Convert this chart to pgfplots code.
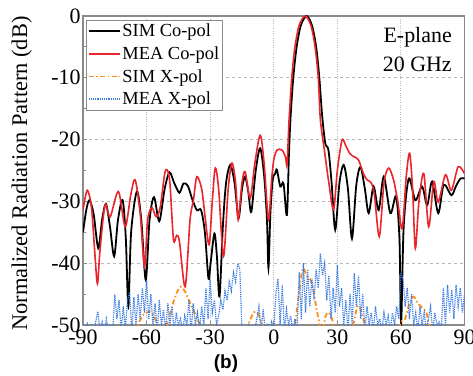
\documentclass[border=0pt]{standalone}
\usepackage{fontspec}
\setmainfont{Liberation Serif}
\newfontfamily\arialfont{Liberation Sans}
\usepackage{pgfplots}
\pgfplotsset{compat=1.18}
\definecolor{simred}{HTML}{E8262B}
\definecolor{simorange}{HTML}{FF8C1A}
\definecolor{meablue}{HTML}{3A7BE0}
\definecolor{framegray}{HTML}{8A8A8A}
\definecolor{gridgray}{HTML}{B8B8B8}
\begin{document}
\begin{tikzpicture}[x=1bp,y=1bp]
\useasboundingbox (0,0) rectangle (473,375);
\begin{axis}[
  at={(83bp,50bp)}, anchor=south west,
  scale only axis, width=381.5bp, height=309bp,
  xmin=-90, xmax=90, ymin=-50, ymax=0,
  xtick={-90,-60,-30,0,30,60,90},
  ytick={-50,-40,-30,-20,-10,0},
  minor y tick num=1,
  tick align=inside,
  major tick length=4bp, minor tick length=3bp,
  tick style={framegray, line width=0.8bp},
  xtick pos=bottom, ytick pos=left,
  axis line style={framegray, line width=1.6bp},
  xmajorgrids, ymajorgrids,
  major x grid style={gridgray, dotted, line width=1bp},
  major y grid style={gridgray, dashed, line width=1bp},
  /pgf/number format/assume math mode=true,
  ticklabel style={font=\fontsize{22}{24}\selectfont},
  xticklabel style={yshift=-1bp},
  yticklabel style={xshift=1bp},
  ylabel={Normalized Radiation Pattern (dB)},
  ylabel style={font=\fontsize{22.5}{24}\selectfont, at={(axis description cs:-0.125,0.49)}},
  legend style={at={(axis description cs:0.008,0.987)}, anchor=north west,
    draw=framegray, line width=0.6bp, font=\fontsize{18.5}{21}\selectfont,
    inner sep=1.5bp, row sep=4.5bp, cells={anchor=west}},
  legend cell align=left,
  legend image code/.code={\draw[#1, line width=1.6bp] (0bp,0bp) -- (31bp,0bp);},
  clip=true,
]
\addplot[black, line width=1.8bp, smooth] coordinates {
(-90,-35) (-88.5,-31.5) (-87,-29.8) (-85,-32) (-82.8,-37.6) (-81,-33) (-79.2,-30.4)
(-77.3,-34) (-75.3,-38.9) (-73.5,-33) (-71.3,-29.8) (-69.8,-36) (-68.6,-47) (-67.3,-35)
(-64.6,-28.4) (-62.5,-33) (-60.4,-42.7) (-58.6,-33) (-56.5,-29.3) (-54,-33.2)
(-51.5,-28) (-49.2,-25.3) (-47,-27) (-44.5,-28.6) (-42.6,-27.1) (-40.5,-27.5)
(-38.6,-29.5) (-36.3,-31.4) (-34.3,-31.4) (-32.5,-35) (-30.8,-42.5) (-29.8,-40)
(-28,-35.2) (-26.8,-39) (-25.6,-45.4) (-24,-34) (-22.5,-27) (-20.5,-24.1) (-18.5,-27)
(-16.6,-32.7) (-15,-28) (-13.5,-26) (-12,-28.5) (-10.6,-31.7) (-8.5,-25) (-6.4,-21.4)
(-4.5,-26) (-3.2,-33) (-2.5,-40.8) (-1.6,-32) (-0.5,-26.5) (0.7,-25.5) (1.5,-24.9)
(3.1,-27.6) (4.6,-27.1) (6.2,-32.2) (7.2,-22) (8,-16) (9.2,-10) (10.8,-5) (12.8,-1.5)
(15.5,0) (18,-1.5) (20,-5) (21.5,-10) (22.8,-16) (24.3,-20.6) (25.8,-21.7) (27.3,-27)
(29,-34.6) (31,-27) (33,-24.1) (35,-28) (36.9,-36) (38.9,-27.5) (40.9,-24.4) (43,-28)
(44.8,-31.9) (47.1,-27.6) (49.5,-31.4) (51.9,-26) (55,-31.9) (57.7,-29.2) (59.3,-36)
(60.1,-49.7) (61.3,-34.1) (63.7,-26.3) (66.8,-29.8) (70,-27.6) (72.4,-30.6) (74.7,-26.8)
(77.6,-31.9) (80.2,-27.3) (83.8,-29) (86,-27.5) (88.1,-26.3) (90,-26.3)
};
\addlegendentry{SIM Co-pol}
\addplot[simred, line width=1.6bp, smooth] coordinates {
(-90,-31.4) (-88,-28.2) (-86,-31) (-84.5,-38) (-83.2,-43.3) (-82,-38) (-79.6,-30.6)
(-77.2,-32.5) (-73.3,-28.4) (-70.1,-34.1) (-67.5,-29) (-65.4,-26.5) (-63,-32)
(-61,-40.6) (-59.5,-33) (-57.5,-31) (-55.5,-32.5) (-53.6,-31) (-51.5,-25.6)
(-50.3,-24.9) (-49,-27) (-47.3,-36.2) (-45.8,-35.5) (-44.5,-36.5) (-41.8,-43.8)
(-39.5,-33) (-37.9,-29.8) (-36.3,-26) (-34,-28) (-32.4,-32.5) (-30.5,-37) (-29,-30)
(-27.6,-24.6) (-26,-28) (-23.7,-38.9) (-21.5,-28) (-19.7,-23.8) (-18,-27) (-16.8,-33)
(-15,-27) (-13.5,-25.2) (-11.1,-29.5) (-9,-24) (-6.4,-19.3) (-4.5,-24) (-2.5,-33)
(-1,-26.5) (0,-23.3) (1.5,-21.7) (3.9,-21.7) (5.5,-22.8) (6.3,-24) (7.2,-17)
(8.5,-10) (10,-5) (12,-1.5) (14.8,0) (17.5,-1.5) (19.5,-5) (21,-10) (22,-16.8)
(24,-22) (26,-27) (28.2,-31.4) (30,-25) (32.2,-20.1) (34,-21) (36,-22.3) (38,-22.8)
(40,-23.3) (42.3,-25.5) (44,-26.5) (46,-27) (47.5,-29) (49.8,-35.7) (52,-27)
(54.2,-24.6) (56.5,-26.5) (58.5,-30) (60.6,-34.4) (62.5,-26) (64.1,-22.2) (65.5,-28)
(66.8,-37.6) (68.5,-30) (70.8,-25.5) (73.1,-34.1) (75.5,-26.8) (77.6,-30.1) (81,-25.7)
(83.8,-28.2) (87,-24.4) (90,-25.5)
};
\addlegendentry{MEA Co-pol}
\addplot[simorange, line width=1.8bp, dash pattern=on 5bp off 2.5bp on 1.5bp off 2.5bp, smooth] coordinates {
(-90,-52) (-66,-52) (-64,-50) (-62,-48.5) (-60,-48) (-58,-47.8) (-56,-49) (-54,-51)
(-52,-52) (-50,-49.5) (-48,-47) (-46,-45) (-44,-43.8) (-42,-44.5) (-40,-46) (-38,-47.5)
(-36,-49) (-34,-50.5) (-33,-52) (-14,-52) (-12,-50) (-10,-48.3) (-8.5,-47.8) (-7,-48.5)
(-5,-50.5) (-4,-52) (9,-52) (10,-50) (11.5,-46) (13,-42) (14,-40.8) (15.5,-42) (17,-42.5)
(18.5,-44) (20,-47) (22,-50.5) (23,-51) (24.5,-48.5) (26,-48) (27.5,-49) (29,-51)
(31,-52) (36,-52) (37.5,-50) (39.5,-47) (41,-47.5) (43,-50) (45,-52) (58,-52) (60,-49.5)
(62,-49) (64,-46.5) (66,-45.4) (68,-46.5) (70,-47.2) (72,-48) (73.5,-50.5) (75,-52) (90,-52)
};
\addlegendentry{SIM X-pol}
\addplot[meablue, line width=1.2bp, densely dotted] coordinates {
(-90,-50.5) (-89,-51) (-88,-49.8) (-87,-51) (-86,-50.2) (-85,-51) (-84,-49.5) (-83,-47.8)
(-82,-51) (-81,-49.5) (-80,-51) (-79,-49) (-78,-51) (-77,-50) (-76,-51) (-75,-45.1)
(-74,-49) (-73,-46) (-72,-51) (-71,-47) (-70,-50.5) (-69,-46) (-68,-44.7) (-67,-51)
(-66,-45.5) (-65,-50) (-64,-45) (-63,-49) (-62,-44) (-61,-48) (-60,-42.7) (-59,-49)
(-58,-45) (-57,-50) (-56,-46.5) (-55,-51) (-54,-46) (-53,-50) (-52,-47.5) (-51,-51)
(-50,-46.5) (-49,-50) (-48,-47) (-47,-51) (-46,-48) (-45,-50) (-44,-49) (-43,-51)
(-42,-48.5) (-41,-50) (-40,-46) (-39,-51) (-38,-46.5) (-37,-50) (-36,-48) (-35,-51)
(-34,-47) (-33,-50) (-32,-44) (-31,-49) (-30,-42.7) (-29,-48) (-28,-46) (-27,-50)
(-26,-48.5) (-25,-46) (-24,-47.5) (-23,-44.5) (-22,-46) (-21,-43) (-20,-44.5) (-19,-41.5)
(-18,-43) (-17,-40) (-16,-41) (-15,-51) (-14,-50.5) (-13,-51) (-12,-50) (-11,-51)
(-10,-50.5) (-9,-51) (-8,-49) (-7,-47) (-6,-51) (-5,-47.5) (-4,-51) (-3,-50) (-2,-51)
(-1,-49.5) (0,-51) (1,-45) (2,-42.5) (3,-50) (4,-43.5) (5,-51) (6,-47.5) (7,-50)
(8,-48.5) (9,-51) (10,-49) (11,-51) (12,-41.5) (13,-49) (14,-40) (15,-48) (16,-41)
(17,-47) (18,-42.5) (19,-46) (20,-41) (21,-44) (22,-38.4) (23,-42) (24,-40) (25,-46)
(26,-42) (27,-49) (28,-44) (29,-48) (30,-40.3) (31,-47) (32,-44) (33,-50) (34,-46)
(35,-51) (36,-45) (37,-50) (38,-41.6) (39,-47) (40,-42) (41,-49) (42,-45) (43,-51)
(44,-47) (45,-50) (46,-48) (47,-51) (48,-47) (49,-50) (50,-49) (51,-51) (52,-48)
(53,-50) (54,-48.5) (55,-51) (56,-48) (57,-50) (58,-47) (59,-49) (60,-41.5) (61,-42.7)
(62,-47) (63,-44) (64,-49) (65,-45) (66,-50) (67,-48) (68,-51) (69,-47) (70,-50)
(71,-48) (72,-51) (73,-49) (74,-47) (75,-51) (76,-48) (77,-50) (78,-49.5) (79,-51)
(80,-44) (81,-50) (82,-43.5) (83,-48) (84,-44.3) (85,-49) (86,-43.5) (87,-47) (88,-44)
(89,-48) (90,-45)
};
\addlegendentry{MEA X-pol}
\node[anchor=north east, align=right, font=\fontsize{22}{29}\selectfont, inner sep=0pt]
  at (rel axis cs:0.967,0.965) {E-plane\\20 GHz};
\end{axis}
\node[font=\arialfont\bfseries\fontsize{19}{21}\selectfont] at (226,11) {(b)};
\end{tikzpicture}
\end{document}
